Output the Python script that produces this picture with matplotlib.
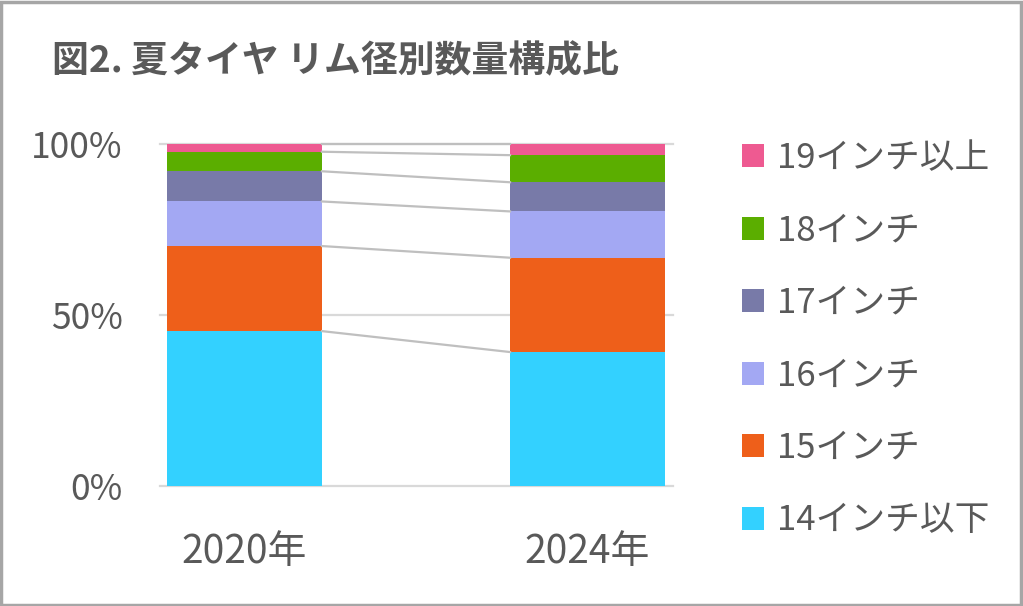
import matplotlib.pyplot as plt
import numpy as np
from matplotlib.patches import Patch, Rectangle

plt.rcParams['font.family'] = ['Noto Sans CJK JP', 'DejaVu Sans']

# dados (%)
anos = ['2020年', '2024年']
categorias = ['14インチ以下', '15インチ', '16インチ', '17インチ', '18インチ', '19インチ以上']
valores_2020 = [45.3, 24.8, 13.0, 8.8, 5.7, 2.4]
valores_2024 = [39.2, 27.5, 13.5, 8.5, 7.9, 3.4]
cores = ['#33D1FF', '#EE5F1A', '#A3A8F3', '#787AA8', '#5BAE00', '#EE5A91']

COR_TEXTO = '#595959'
LARGURA = 0.452

fig = plt.figure(figsize=(10.23, 6.06), dpi=100)
ax = fig.add_axes([0.1564, 0.1972, 0.5015, 0.566])

dados = np.array([valores_2020, valores_2024])
x = np.arange(len(anos))
base = np.zeros(len(anos))
for k, cat in enumerate(categorias):
    ax.bar(x, dados[:, k], LARGURA, bottom=base, color=cores[k], label=cat, zorder=2)
    base = base + dados[:, k]

# linhas de ligação entre as barras
acum = np.cumsum(dados, axis=1)
for k in range(len(categorias)):
    ax.plot([x[0] + LARGURA / 2, x[1] - LARGURA / 2], [acum[0, k], acum[1, k]],
            color='#BFBFBF', lw=1.6, zorder=3, clip_on=False)

for v in [0, 50, 100]:
    ax.axhline(v, color='#D9D9D9', lw=1.6, zorder=1, clip_on=False)

ax.set_xlim(-0.246, 1.249)
ax.set_ylim(0, 100)
ax.set_yticks([0, 50, 100])
ax.set_yticklabels(['0%', '50%', '100%'])
ax.set_xticks(x)
ax.set_xticklabels(anos)
ax.tick_params(axis='y', length=0, pad=27, labelsize=25.5, labelcolor=COR_TEXTO)
ax.tick_params(axis='x', length=0, pad=33, labelsize=28, labelcolor=COR_TEXTO)
for s in ax.spines.values():
    s.set_visible(False)

# legenda (ordem invertida)
handles = [Patch(facecolor=c, edgecolor='none') for c in cores][::-1]
leg = fig.legend(handles, categorias[::-1], loc='upper left',
                 bbox_to_anchor=(728 / 1023, 1 - 127 / 606), frameon=False,
                 fontsize=25, handlelength=0.63, handleheight=0.63,
                 handletextpad=0.38, labelspacing=1.08, borderaxespad=0)
for t in leg.get_texts():
    t.set_color(COR_TEXTO)

fig.text(52 / 1023, 1 - 62 / 606, '図2. 夏タイヤ リム径別数量構成比', fontsize=26.6,
         fontweight='bold', color=COR_TEXTO, va='center', ha='left')

fig.patches.append(Rectangle((0.001, 0.002), 0.997, 0.995, transform=fig.transFigure,
                             fill=False, edgecolor='#A6A6A6', lw=2.5))

fig.savefig('out.png', dpi=100)
